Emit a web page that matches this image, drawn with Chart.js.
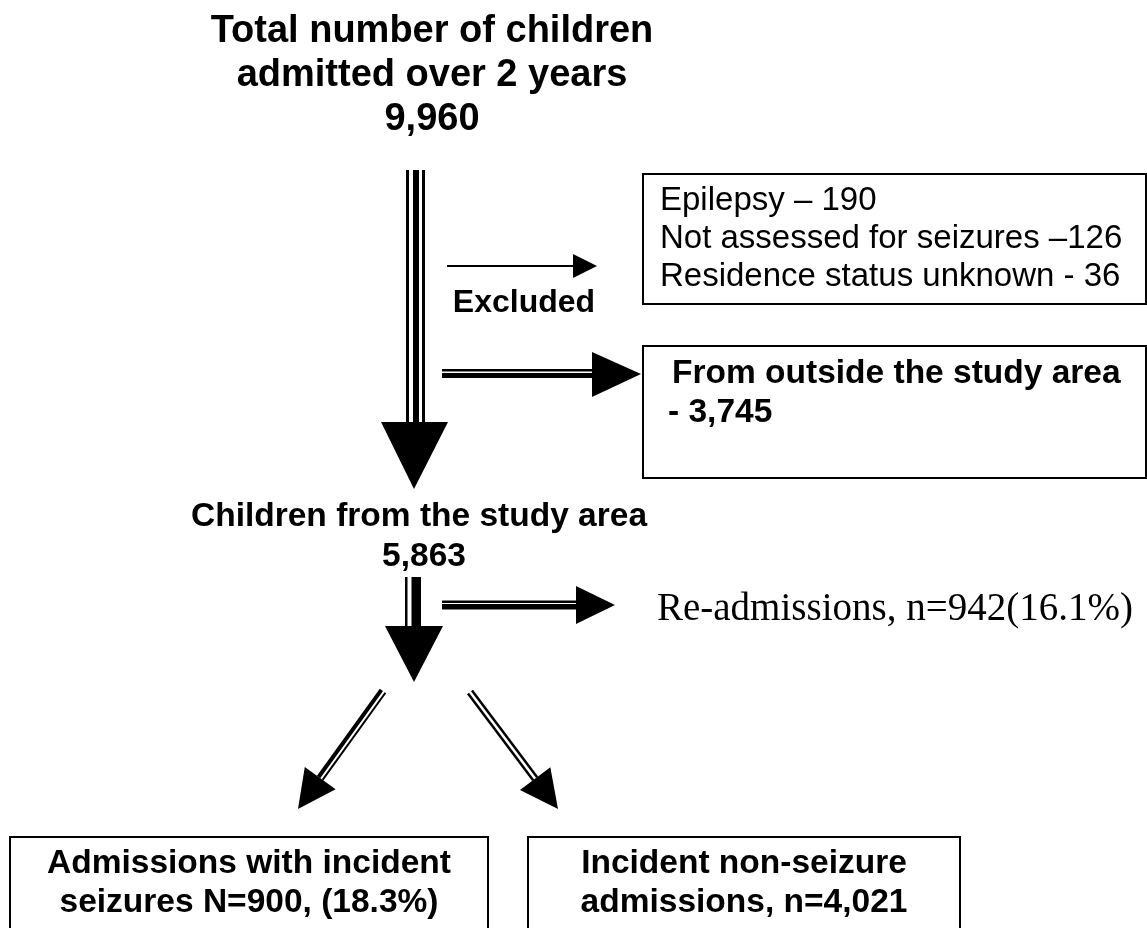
<!DOCTYPE html>
<html lang="en">
<head>
  <meta charset="UTF-8">
  <title>Flow of admissions</title>
  <script src="https://cdn.jsdelivr.net/npm/chart.js"></script>
  <style>
    body { margin: 0; background: #fff; }
    .box_chart { width: 1147px; height: 928px; }
  </style>
</head>
<body>
  <div class="box_chart"><canvas id="fluxo"></canvas></div>
<script>
  // numbers
  var totalAdmitidos = 9960;
  var anosEstudo = 2;
  var motivosExclusao = ['Epilepsy', 'Not assessed for seizures', 'Residence status unknown'];
  var separadores = [' \u2013 ', ' \u2013', ' - '];
  var contagemExclusao = [190, 126, 36];
  var foraDaArea = 3745;
  var daArea = 5863;
  var readmissoes = 942;
  var readmissoesPct = 16.1;
  var desfechos = ['Admissions with incident seizures', 'Incident non-seizure admissions'];
  var desfechoN = [900, 4021];
  var convulsaoPct = 18.3;

  function fmt(n) { return n.toLocaleString('en-US'); }

  var SANS = '"Liberation Sans", Arial, sans-serif';
  var SERIF = '"Liberation Serif", "Times New Roman", serif';

  const desenho = {
    id: 'desenho',
    afterDraw(chart) {
      const ctx = chart.ctx;
      const sx = chart.scales.x, sy = chart.scales.y;
      const X = v => sx.getPixelForValue(v);
      const Y = v => sy.getPixelForValue(v);

      ctx.save();
      ctx.fillStyle = '#000';
      ctx.strokeStyle = '#000';

      function texto(t, x, y, font, align) {
        ctx.font = font;
        ctx.textAlign = align || 'center';
        ctx.textBaseline = 'middle';
        ctx.fillText(t, X(x), Y(y));
      }
      function linha(x1, y1, x2, y2, w) {
        ctx.lineWidth = w;
        ctx.beginPath();
        ctx.moveTo(X(x1), Y(y1));
        ctx.lineTo(X(x2), Y(y2));
        ctx.stroke();
      }
      function tri(pts) {
        ctx.beginPath();
        ctx.moveTo(X(pts[0][0]), Y(pts[0][1]));
        for (let i = 1; i < pts.length; i++) ctx.lineTo(X(pts[i][0]), Y(pts[i][1]));
        ctx.closePath();
        ctx.fill();
      }
      function caixa(x1, y1, x2, y2) {
        ctx.lineWidth = 2;
        ctx.strokeRect(X(x1), Y(y1), X(x2) - X(x1), Y(y2) - Y(y1));
      }
      function barra(x1, y1, x2, y2) {
        ctx.fillRect(X(x1), Y(y1), X(x2) - X(x1), Y(y2) - Y(y1));
      }
      // diagonal arrow with two parallel lines
      function diagonal(x1, y1, tx, ty, linhas) {
        const dx = tx - x1, dy = ty - y1, L = Math.hypot(dx, dy);
        const ux = dx / L, uy = dy / L, nx = -uy, ny = ux;
        const bx = tx - ux * 38, by = ty - uy * 38;
        linhas.forEach(function (l) {
          linha(x1 + nx * l[0], y1 + ny * l[0], bx + nx * l[0], by + ny * l[0], l[1]);
        });
        tri([[tx, ty], [bx + nx * 19, by + ny * 19], [bx - nx * 19, by - ny * 19]]);
      }

      // title
      var bold38 = 'bold 38px ' + SANS;
      texto('Total number of children', 432, 32, bold38);
      texto('admitted over ' + anosEstudo + ' years', 432, 76, bold38);
      texto(fmt(totalAdmitidos), 432, 120, bold38);

      // main vertical arrow
      barra(406, 170, 409, 424);
      barra(413, 170, 419, 424);
      barra(422, 170, 425, 424);
      tri([[381, 422], [448, 422], [414, 489]]);

      // excluded arrow (thin)
      linha(447, 266, 575, 266, 2);
      tri([[573, 254], [573, 278], [597, 266]]);
      texto('Excluded', 524, 303, 'bold 32px ' + SANS);

      // exclusion box
      caixa(643, 174, 1146, 304);
      var reg33 = '33px ' + SANS;
      for (let i = 0; i < motivosExclusao.length; i++) {
        texto(motivosExclusao[i] + separadores[i] + contagemExclusao[i], 660, 201 + i * 38, reg33, 'left');
      }

      // outside arrow (double)
      barra(442, 369, 594, 371.5);
      barra(442, 373, 594, 378);
      tri([[592, 352], [592, 397], [641, 374]]);

      caixa(643, 346, 1146, 478);
      var bold33 = 'bold 33.5px ' + SANS;
      texto('From outside the study area', 672, 374, bold33, 'left');
      texto('- ' + fmt(foraDaArea), 668, 413, bold33, 'left');

      // study area
      texto('Children from the study area', 419, 517, bold33);
      texto(fmt(daArea), 424, 557, bold33);

      // second vertical arrow
      barra(405, 577, 407.5, 628);
      barra(411.5, 577, 421, 628);
      tri([[385, 626], [443, 626], [414, 682]]);

      // readmission arrow
      barra(442, 600.5, 578, 603);
      barra(442, 604, 578, 609.5);
      tri([[576, 586], [576, 624], [615, 605]]);
      texto('Re-admissions, n=' + readmissoes + '(' + readmissoesPct + '%)', 657, 610, '39px ' + SERIF, 'left');

      // split arrows
      diagonal(383, 691, 298, 809, [[-3, 2], [2, 4]]);
      diagonal(470, 692, 558, 809, [[-2.5, 2.5], [2.5, 2.5]]);

      // outcome boxes
      caixa(10, 837, 488, 940);
      caixa(528, 837, 960, 940);
      texto('Admissions with incident', 249, 864, bold33);
      texto('seizures N=' + desfechoN[0] + ', (' + convulsaoPct + '%)', 249, 903, bold33);
      texto('Incident non-seizure', 744, 864, bold33);
      texto('admissions, n=' + fmt(desfechoN[1]), 744, 903, bold33);

      ctx.restore();
    }
  };

  new Chart(document.getElementById('fluxo'), {
    type: 'scatter',
    data: { datasets: [{ data: [], pointRadius: 0 }] },
    options: {
      responsive: true,
      maintainAspectRatio: false,
      animation: false,
      layout: { padding: 0 },
      scales: {
        x: { type: 'linear', min: 0, max: 1147, display: false },
        y: { type: 'linear', min: 0, max: 928, reverse: true, display: false }
      },
      plugins: { legend: { display: false }, tooltip: { enabled: false } }
    },
    plugins: [desenho]
  });
</script>
</body>
</html>
